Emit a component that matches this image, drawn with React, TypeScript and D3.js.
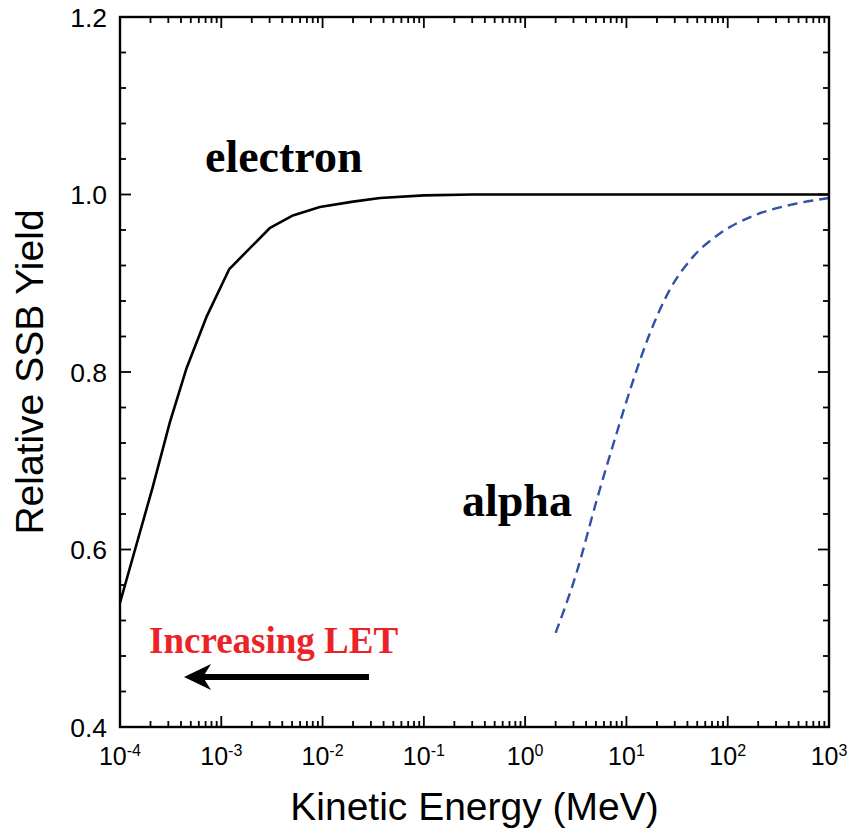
import * as d3 from 'd3';

// electron curve (kinetic energy in MeV, relative yield)
const electronE = [1e-4, 2.1e-4, 3.1e-4, 4.5e-4, 7.2e-4, 1.2e-3, 3e-3, 5e-3, 9.4e-3, 0.02, 0.037, 0.1, 0.3, 1000];
const electronY = [0.54, 0.67, 0.743, 0.803, 0.863, 0.916, 0.962, 0.976, 0.986, 0.992, 0.996, 0.999, 1.0, 1.0];

// alpha curve
const alphaE = [2.0, 3.2, 5.1, 8.0, 11.7, 17.1, 26.9, 45.6, 83.7, 179, 444, 1000];
const alphaY = [0.506, 0.573, 0.656, 0.731, 0.791, 0.844, 0.893, 0.93, 0.956, 0.976, 0.989, 0.996];

const xDecades = [-4, -3, -2, -1, 0, 1, 2, 3];
const yTicks = [0.4, 0.6, 0.8, 1.0, 1.2];

const W = 851;
const H = 833;
const margin = { top: 17, right: 22, bottom: 106, left: 120 };

const sans = '"Liberation Sans", Arial, sans-serif';
const serif = '"Liberation Serif", "Times New Roman", serif';

export default function App() {
  const x = d3.scaleLog().domain([1e-4, 1e3]).range([margin.left, W - margin.right]);
  const y = d3.scaleLinear().domain([0.4, 1.2]).range([H - margin.bottom, margin.top]);
  const [x0, x1] = x.range();
  const [y0, y1] = y.range();

  const line = d3
    .line<[number, number]>()
    .x((d) => x(d[0]))
    .y((d) => y(d[1]));
  const smooth = d3
    .line<[number, number]>()
    .x((d) => x(d[0]))
    .y((d) => y(d[1]))
    .curve(d3.curveMonotoneX);

  const electron = electronE.map((e, i) => [e, electronY[i]] as [number, number]);
  const alpha = alphaE.map((e, i) => [e, alphaY[i]] as [number, number]);

  // minor ticks
  const xMinor: number[] = [];
  for (let k = -4; k < 3; k++) for (let m = 2; m < 10; m++) xMinor.push(m * Math.pow(10, k));
  const yMinor = d3.range(0.44, 1.2, 0.04).filter((v) => Math.abs(v * 5 - Math.round(v * 5)) > 1e-6);

  const major = 11;
  const minor = 6;

  return (
    <svg width={W} height={H} style={{ position: 'absolute', left: 0, top: 0, background: '#fff' }}>
      {/* curves */}
      <path d={line(electron) || ''} fill="none" stroke="#000" strokeWidth={2.6} strokeLinejoin="round" />
      <path
        d={smooth(alpha) || ''}
        fill="none"
        stroke="#2F51A6"
        strokeWidth={2.4}
        strokeDasharray="10,6"
      />

      {/* ticks, all inward */}
      <g stroke="#000" strokeWidth={1.8}>
        {xDecades.map((k) => {
          const px = x(Math.pow(10, k));
          return (
            <g key={'xm' + k}>
              <line x1={px} x2={px} y1={y0} y2={y0 - major} />
              <line x1={px} x2={px} y1={y1} y2={y1 + major} />
            </g>
          );
        })}
        {xMinor.map((v, i) => (
          <g key={'xn' + i}>
            <line x1={x(v)} x2={x(v)} y1={y0} y2={y0 - minor} />
            <line x1={x(v)} x2={x(v)} y1={y1} y2={y1 + minor} />
          </g>
        ))}
        {yTicks.map((v) => (
          <g key={'ym' + v}>
            <line x1={x0} x2={x0 + major} y1={y(v)} y2={y(v)} />
            <line x1={x1} x2={x1 - major} y1={y(v)} y2={y(v)} />
          </g>
        ))}
        {yMinor.map((v, i) => (
          <g key={'yn' + i}>
            <line x1={x0} x2={x0 + minor} y1={y(v)} y2={y(v)} />
            <line x1={x1} x2={x1 - minor} y1={y(v)} y2={y(v)} />
          </g>
        ))}
      </g>

      {/* frame */}
      <rect x={x0} y={y1} width={x1 - x0} height={y0 - y1} fill="none" stroke="#000" strokeWidth={2.4} />

      {/* tick labels */}
      {yTicks.map((v) => (
        <text
          key={'yl' + v}
          x={x0 - 13}
          y={y(v)}
          dy="0.36em"
          textAnchor="end"
          fontFamily={sans}
          fontSize={26.5}
        >
          {v.toFixed(1)}
        </text>
      ))}
      {xDecades.map((k) => (
        <text key={'xl' + k} x={x(Math.pow(10, k))} y={y0 + 38} textAnchor="middle" fontFamily={sans} fontSize={25}>
          10
          <tspan fontSize={16} dy={-9}>
            {String(k)}
          </tspan>
        </text>
      ))}

      {/* axis titles */}
      <text x={(x0 + x1) / 2} y={820} textAnchor="middle" fontFamily={sans} fontSize={39}>
        Kinetic Energy (MeV)
      </text>
      <text
        transform={`translate(43, ${(y0 + y1) / 2}) rotate(-90)`}
        textAnchor="middle"
        fontFamily={sans}
        fontSize={39}
      >
        Relative SSB Yield
      </text>

      {/* annotations */}
      <text x={205} y={172} fontFamily={serif} fontWeight="bold" fontSize={46}>
        electron
      </text>
      <text x={462} y={516} fontFamily={serif} fontWeight="bold" fontSize={46}>
        alpha
      </text>
      <text x={149} y={653} fill="#EC2227" fontFamily={serif} fontWeight="bold" fontSize={37}>
        Increasing LET
      </text>
      <line x1={369} x2={200} y1={677} y2={677} stroke="#000" strokeWidth={6} />
      <path d="M184,677 L211,664 L203,677 L211,690 Z" fill="#000" />
    </svg>
  );
}
